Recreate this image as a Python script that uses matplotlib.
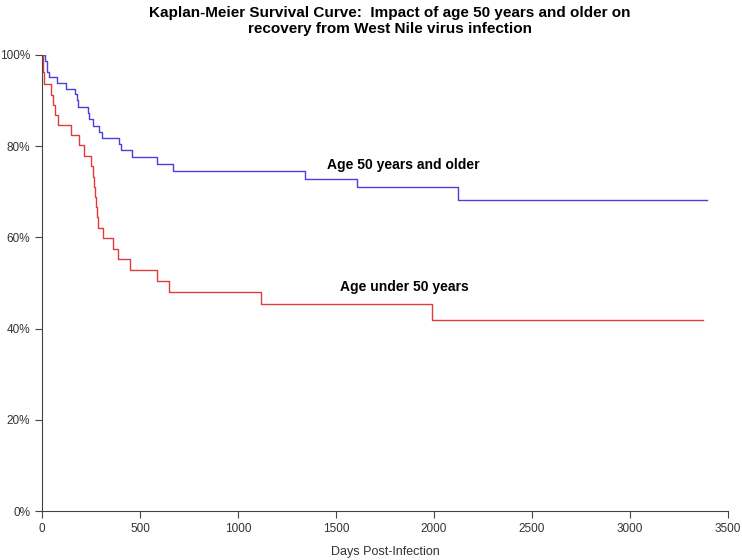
import matplotlib
matplotlib.use("Agg")
import matplotlib.pyplot as plt
from matplotlib.ticker import PercentFormatter

plt.rcParams['font.family'] = ['Liberation Sans', 'DejaVu Sans']

# step points (days, % recovered-free)
days_old = [0, 15, 27, 37, 78, 122, 168, 178, 185, 236, 241, 262, 291, 305,
            395, 401, 458, 588, 667, 1342, 1605, 2121, 3391]
surv_old = [100, 98.7, 96.3, 95.1, 93.9, 92.5, 91.4, 90.1, 88.7, 87.3, 86.0,
            84.4, 83.2, 81.9, 80.5, 79.2, 77.7, 76.2, 74.6, 72.8, 71.0, 68.2, 68.2]

days_young = [0, 3, 10, 44, 54, 66, 83, 148, 190, 216, 248, 258, 267, 272,
              278, 282, 288, 311, 361, 386, 449, 585, 650, 1116, 1991, 3371]
surv_young = [100, 96.2, 93.6, 91.2, 89.0, 86.8, 84.6, 82.5, 80.2, 77.9, 75.7,
              73.3, 71.1, 68.9, 66.7, 64.4, 62.0, 59.8, 57.4, 55.2, 52.9, 50.4,
              48.0, 45.4, 41.9, 41.9]

fig = plt.figure(figsize=(7.42, 5.6), dpi=100)
ax = fig.add_axes([0.0566, 0.0875, 0.9245, 0.8143])

ax.step(days_old, surv_old, where='post', color='#4a3fd8', lw=1)
ax.step(days_young, surv_young, where='post', color='#e03a3a', lw=1)

ax.text(1452, 75.9, 'Age 50 years and older', fontsize=10, fontweight='bold', va='center')
ax.text(1520, 49.1, 'Age under 50 years', fontsize=10, fontweight='bold', va='center')

ax.set_xlim(0, 3500)
ax.set_ylim(0, 100)
ax.set_xticks(range(0, 3501, 500))
ax.set_yticks(range(0, 101, 20))
ax.yaxis.set_major_formatter(PercentFormatter(decimals=0))

for s in ['top', 'right']:
    ax.spines[s].set_visible(False)
for s in ['left', 'bottom']:
    ax.spines[s].set_color('#444444')
ax.tick_params(labelsize=8.5, colors='#444444', labelcolor='#333333', length=5, direction='out')

ax.set_xlabel('Days Post-Infection', fontsize=9, color='#333333', labelpad=8)
fig.text(0.525, 0.99, 'Kaplan-Meier Survival Curve:  Impact of age 50 years and older on\nrecovery from West Nile virus infection',
         ha='center', va='top', fontsize=11, fontweight='bold', linespacing=1.25)

plt.savefig('out.png')
